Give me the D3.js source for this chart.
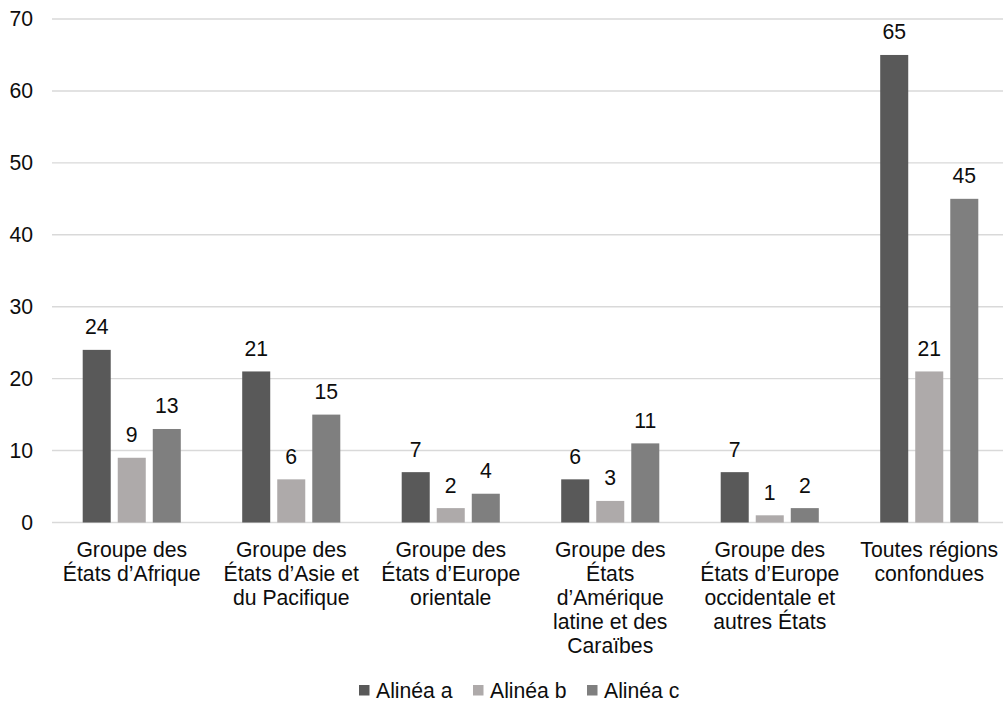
<!DOCTYPE html>
<html>
<head>
<meta charset="utf-8">
<script src="https://cdn.jsdelivr.net/npm/d3@7"></script>
<style>
  html, body { margin: 0; padding: 0; background: #fff; }
  svg { display: block; }
  svg text { font-family: "Liberation Sans", Arial, sans-serif; }
</style>
</head>
<body>
<svg id="chart" width="1003" height="704"></svg>
<script>
// Regional groups, each label split into its wrapped lines
const categories = [
  ["Groupe des", "États d’Afrique"],
  ["Groupe des", "États d’Asie et", "du Pacifique"],
  ["Groupe des", "États d’Europe", "orientale"],
  ["Groupe des", "États", "d’Amérique", "latine et des", "Caraïbes"],
  ["Groupe des", "États d’Europe", "occidentale et", "autres États"],
  ["Toutes régions", "confondues"]
];
const seriesNames = ["Alinéa a", "Alinéa b", "Alinéa c"];
const alineaA = [24, 21, 7, 6, 7, 65];
const alineaB = [9, 6, 2, 3, 1, 21];
const alineaC = [13, 15, 4, 11, 2, 45];
const yTicks = [0, 10, 20, 30, 40, 50, 60, 70];
const colors = ["#595959", "#AEAAAA", "#7F7F7F"];

const seriesValues = [alineaA, alineaB, alineaC];
const svg = d3.select("#chart");
const plot = { left: 52, right: 1009, top: 19, bottom: 522.5 };
const fontSize = 21.2;
const textColor = "#0d0d0d";

const catIndex = d3.range(categories.length);
const x0 = d3.scaleBand().domain(catIndex).range([plot.left, plot.right])
  .paddingInner(0.385).paddingOuter(0.1925);
const x1 = d3.scaleBand().domain(d3.range(seriesNames.length))
  .range([0, x0.bandwidth()]).paddingInner(0.2).paddingOuter(0);
const y = d3.scaleLinear().domain([0, 70]).range([plot.bottom, plot.top]);

// Horizontal gridlines
svg.append("g").selectAll("line").data(yTicks).join("line")
  .attr("x1", plot.left).attr("x2", plot.right)
  .attr("y1", d => y(d)).attr("y2", d => y(d))
  .attr("stroke", "#D9D9D9").attr("stroke-width", 1.4);

// Y-axis tick labels
const yAxis = d3.axisLeft(y).tickValues(yTicks).tickSize(0).tickPadding(0);
const yg = svg.append("g").attr("transform", `translate(33,0)`).call(yAxis)
  .attr("font-family", null).attr("font-size", null);
yg.select(".domain").remove();
yg.selectAll("text").attr("font-size", fontSize).attr("fill", textColor);

// Bars and value labels
const groups = svg.append("g").selectAll("g").data(catIndex).join("g")
  .attr("transform", i => `translate(${x0(i)},0)`);

groups.selectAll("rect")
  .data(i => seriesValues.map((vals, s) => ({ s, v: vals[i] })))
  .join("rect")
  .attr("x", d => x1(d.s))
  .attr("width", x1.bandwidth())
  .attr("y", d => y(d.v))
  .attr("height", d => y(0) - y(d.v))
  .attr("fill", d => colors[d.s]);

groups.selectAll("text.val")
  .data(i => seriesValues.map((vals, s) => ({ s, v: vals[i] })))
  .join("text").attr("class", "val")
  .attr("x", d => x1(d.s) + x1.bandwidth() / 2)
  .attr("y", d => y(d.v) - 15.5)
  .attr("text-anchor", "middle")
  .attr("font-size", fontSize).attr("fill", textColor)
  .text(d => d.v);

// Category labels (wrapped lines)
const catLabels = svg.append("g").selectAll("text").data(catIndex).join("text")
  .attr("text-anchor", "middle")
  .attr("font-size", fontSize).attr("fill", textColor)
  .attr("x", i => x0(i) + x0.bandwidth() / 2)
  .attr("y", 556.5);
catLabels.selectAll("tspan").data(i => categories[i]).join("tspan")
  .attr("x", function () { return d3.select(this.parentNode).attr("x"); })
  .attr("dy", (d, k) => k === 0 ? 0 : 24)
  .text(d => d);

// Legend
const legendX = d3.scalePoint().domain(d3.range(seriesNames.length)).range([359, 587]);
const legend = svg.append("g").selectAll("g").data(d3.range(seriesNames.length)).join("g")
  .attr("transform", s => `translate(${legendX(s)},690)`);
legend.append("rect").attr("x", 0).attr("y", -5).attr("width", 10.5).attr("height", 10.5)
  .attr("fill", s => colors[s]);
legend.append("text").attr("x", 17).attr("y", 7.5)
  .attr("font-size", fontSize).attr("fill", textColor)
  .text(s => seriesNames[s]);
</script>
</body>
</html>
